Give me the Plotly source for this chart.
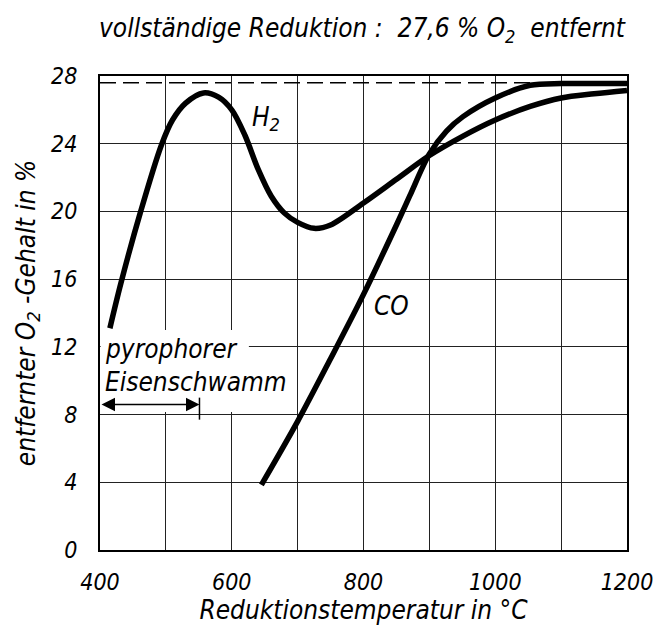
import plotly.graph_objects as go

# ---- data ----
h2_temp = [415, 432, 461, 493, 510, 530, 557, 580, 600, 620, 640, 660, 680, 700, 725, 750,
           800, 850, 900, 951, 1000, 1053, 1100, 1150, 1200]
h2_o2 = [13.1, 15.8, 19.9, 23.9, 25.4, 26.4, 27.0, 26.75, 26.0, 24.5, 22.5, 20.9, 19.9,
         19.35, 19.0, 19.2, 20.5, 21.9, 23.3, 24.45, 25.4, 26.2, 26.7, 26.95, 27.15]

co_temp = [645, 700, 750, 800, 850, 870, 900, 926, 951, 1000, 1053, 1100, 1150, 1200]
co_o2 = [3.85, 7.6, 11.3, 15.1, 19.2, 20.9, 23.4, 24.75, 25.6, 26.7, 27.45, 27.55, 27.55, 27.55]

full_reduction = 27.6
pyro_range = [400, 551]
pyro_level = 8.6

x_ticks = [400, 600, 800, 1000, 1200]
y_ticks = [0, 4, 8, 12, 16, 20, 24, 28]

FONT = "Liberation Sans Narrow, DejaVu Sans Condensed, Arial Narrow, sans-serif"

fig = go.Figure()

fig.add_trace(go.Scatter(x=[400, 1200], y=[full_reduction, full_reduction], mode="lines",
                         line=dict(color="black", width=1.5, dash="16px,7px"),
                         hoverinfo="skip", showlegend=False))
fig.add_trace(go.Scatter(x=h2_temp, y=h2_o2, mode="lines", name="H2",
                         line=dict(color="black", width=5.5, shape="spline", smoothing=0.9),
                         showlegend=False))
fig.add_trace(go.Scatter(x=co_temp, y=co_o2, mode="lines", name="CO",
                         line=dict(color="black", width=5.5, shape="spline", smoothing=0.9),
                         showlegend=False))

# white box hiding grid behind the text
fig.add_shape(type="rect", xref="x", yref="y", x0=401, x1=626, y0=8.15, y1=13.0,
              fillcolor="white", line=dict(width=0), layer="between")
# end tick of arrow
fig.add_shape(type="line", xref="x", yref="y", x0=pyro_range[1], x1=pyro_range[1],
              y0=7.7, y1=9.0, line=dict(color="black", width=1.5))

fig.add_annotation(x=pyro_range[1], y=pyro_level, ax=pyro_range[0], ay=pyro_level,
                   xref="x", yref="y", axref="x", ayref="y", text="", showarrow=True,
                   arrowhead=2, arrowside="end+start", arrowsize=1.8, arrowwidth=1.5,
                   arrowcolor="black", standoff=0, startstandoff=0)

txt_font = dict(family=FONT, size=26, color="black", style="italic")
fig.add_annotation(x=405, y=11.85, xref="x", yref="y", text="pyrophorer", showarrow=False,
                   xanchor="left", yanchor="middle", font=txt_font)
fig.add_annotation(x=405, y=9.9, xref="x", yref="y", text="Eisenschwamm", showarrow=False,
                   xanchor="left", yanchor="middle", font=txt_font)
fig.add_annotation(x=652, y=25.5, xref="x", yref="y", text="H<sub>2</sub>", showarrow=False,
                   xanchor="center", yanchor="middle", font=txt_font)
fig.add_annotation(x=843, y=14.4, xref="x", yref="y", text="CO", showarrow=False,
                   xanchor="center", yanchor="middle", font=txt_font)

tick_font = dict(family=FONT, size=23, color="black", style="italic")
title_font = dict(family=FONT, size=26, color="black", style="italic")

fig.update_layout(
    width=656, height=628,
    margin=dict(l=100, r=29, t=76, b=78, autoexpand=False),
    paper_bgcolor="white", plot_bgcolor="white",
    title=dict(text="vollständige Reduktion :  27,6 % O<sub>2</sub>  entfernt",
               xref="container", yref="container", x=362 / 656, y=1 - 28 / 628,
               xanchor="center", yanchor="middle",
               font=dict(family=FONT, size=26, color="black", style="italic")),
    xaxis=dict(range=[400, 1200], tickvals=x_ticks, ticktext=[str(v) for v in x_ticks],
               showgrid=True, gridcolor="#222", gridwidth=1.2,
               minor=dict(dtick=100, tick0=400, showgrid=True, gridcolor="#222", gridwidth=1.2),
               showline=True, linecolor="black", linewidth=2, mirror=True,
               ticks="", ticklabelstandoff=10, zeroline=False,
               ticklabeloverflow="allow", automargin=False,
               tickfont=tick_font,
               title=dict(text="Reduktionstemperatur in °C", standoff=6, font=title_font)),
    yaxis=dict(range=[0, 28], tickvals=y_ticks, ticktext=[str(v) for v in y_ticks],
               showgrid=True, gridcolor="#222", gridwidth=1.2,
               showline=True, linecolor="black", linewidth=2, mirror=True,
               ticks="", ticklabelstandoff=16, zeroline=False,
               ticklabeloverflow="allow", automargin=False,
               tickfont=tick_font,
               title=dict(text="entfernter O<sub>2</sub> -Gehalt in %", standoff=8,
                          font=title_font)),
)

fig.write_html("out.html")
